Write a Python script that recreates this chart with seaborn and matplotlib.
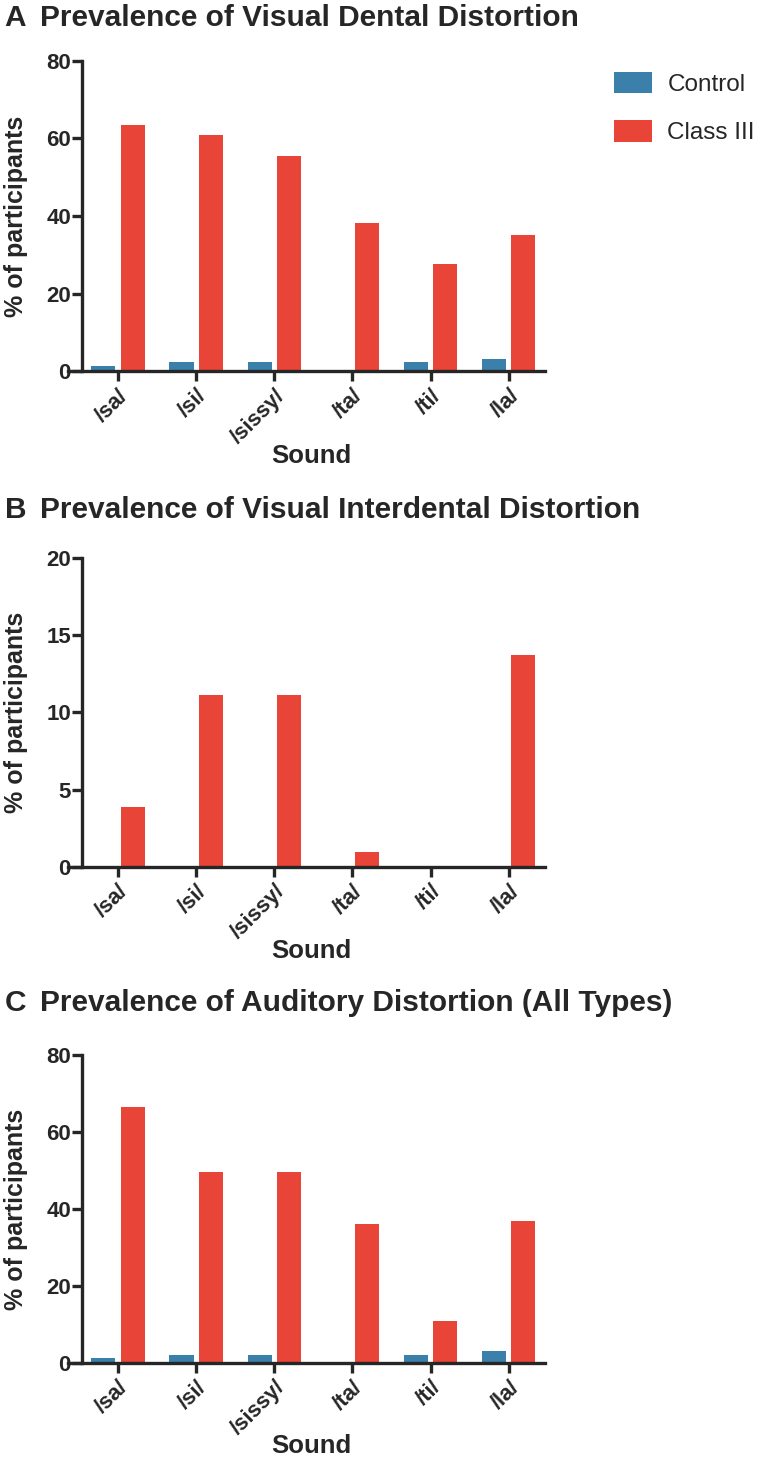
import pandas as pd
import matplotlib.pyplot as plt
import seaborn as sns
from matplotlib.patches import Patch

# Data
sounds = ["/sa/", "/si/", "/sissy/", "/ta/", "/ti/", "/la/"]
groups = ["Control", "Class III"]

dental_control = [1.5, 2.4, 2.4, 0.0, 2.4, 3.2]
dental_class3 = [63.5, 60.9, 55.4, 38.1, 27.7, 35.2]

interdental_control = [0.0, 0.0, 0.0, 0.0, 0.0, 0.0]
interdental_class3 = [3.9, 11.1, 11.1, 0.95, 0.0, 13.7]

auditory_control = [1.3, 2.2, 2.2, 0.0, 2.2, 3.0]
auditory_class3 = [66.4, 49.7, 49.7, 36.1, 10.8, 36.9]

titles = ["Prevalence of Visual Dental Distortion",
          "Prevalence of Visual Interdental Distortion",
          "Prevalence of Auditory Distortion (All Types)"]
letters = ["A", "B", "C"]
ymax = [80, 20, 80]
ystep = [20, 5, 20]

palette = {"Control": "#3a80ab", "Class III": "#e84538"}
ink = "#262626"

sns.set_theme(style="white")
plt.rcParams["font.family"] = ["Liberation Sans", "DejaVu Sans"]
plt.rcParams["font.weight"] = "bold"


def long_df(ctrl, cls3):
    return pd.DataFrame({
        "Sound": sounds * 2,
        "Group": ["Control"] * len(sounds) + ["Class III"] * len(sounds),
        "pct": ctrl + cls3,
    })


panels = [long_df(dental_control, dental_class3),
          long_df(interdental_control, interdental_class3),
          long_df(auditory_control, auditory_class3)]

fig = plt.figure(figsize=(7.64, 14.62), dpi=100)
fig.patch.set_facecolor("white")

# axes boxes in figure fractions (left, bottom, width, height)
boxes = [(0.089, 0.7459, 0.624, 0.2127),
         (0.089, 0.4070, 0.624, 0.2114),
         (0.089, 0.0677, 0.624, 0.2107)]
title_y = [1 - 18 / 1462, 1 - 510 / 1462, 1 - 1003 / 1462]

for i, df in enumerate(panels):
    ax = fig.add_axes(boxes[i])
    sns.barplot(data=df, x="Sound", y="pct", hue="Group", order=sounds,
                hue_order=groups, palette=palette, width=0.75, gap=0.18,
                saturation=1, edgecolor="none", legend=False, ax=ax)
    ax.set_xlim(-0.64, 5.46)
    ax.set_ylim(0, ymax[i])
    ax.set_yticks(range(0, ymax[i] + 1, ystep[i]))
    for s in ["top", "right"]:
        ax.spines[s].set_visible(False)
    for s in ["left", "bottom"]:
        ax.spines[s].set_linewidth(2.4)
        ax.spines[s].set_color(ink)
    ax.spines["left"].set_position(("data", -0.46))
    ax.spines["left"].set_bounds(0, ymax[i])
    ax.tick_params(axis="both", which="major", direction="out", length=7,
                   width=2.4, color=ink, labelcolor=ink, pad=1)
    ax.tick_params(axis="y", labelsize=16, left=True)
    ax.tick_params(axis="x", labelsize=16, bottom=True, pad=3)
    for lab in ax.get_yticklabels():
        lab.set_fontweight("bold")
    ax.set_xticks(range(len(sounds)))
    ax.set_xticklabels(sounds, rotation=45, ha="right",
                       rotation_mode="anchor", fontweight="bold")
    ax.set_xlabel("Sound", fontsize=18.5, fontweight="bold", color=ink)
    ax.xaxis.set_label_coords(0.51, -0.232)
    ax.set_ylabel("% of participants", fontsize=18, fontweight="bold", color=ink)
    ax.yaxis.set_label_coords(-0.084, 0.5)
    ax.grid(False)
    ax.set_facecolor("white")

    fig.text(0.006, title_y[i], letters[i], fontsize=21.5, fontweight="bold",
             color=ink, va="center", ha="left")
    fig.text(0.052, title_y[i], titles[i], fontsize=21.5, fontweight="bold",
             color=ink, va="center", ha="left")

handles = [Patch(facecolor=palette[g], edgecolor="none") for g in groups]
fig.legend(handles, groups, loc="upper left", bbox_to_anchor=(0.775, 0.966),
           frameon=False, prop={"size": 17.5, "weight": "normal"},
           handlelength=1.55, handleheight=1.0, handletextpad=0.65,
           labelspacing=1.0, labelcolor=ink)

fig.savefig("out.png", dpi=100, facecolor="white")
